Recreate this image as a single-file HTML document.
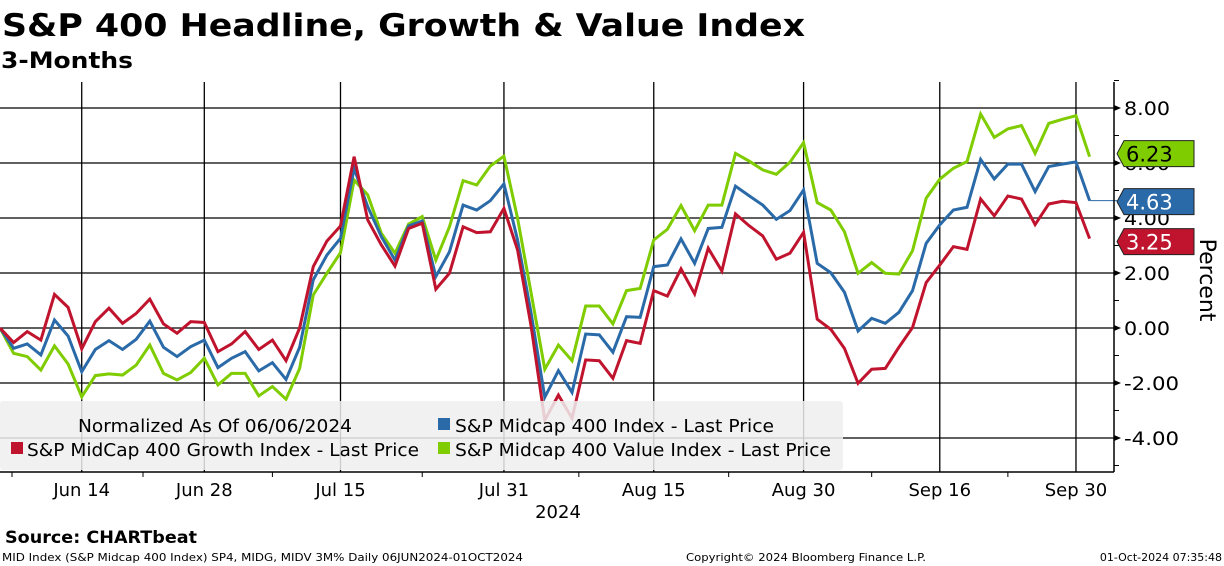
<!DOCTYPE html>
<html><head><meta charset="utf-8"><style>
html,body{margin:0;padding:0;background:#fff;}
svg{display:block;font-family:"DejaVu Sans","Liberation Sans",sans-serif;}
</style></head><body>
<svg id="chart" width="1224" height="566" viewBox="0 0 1224 566">
<text x="2" y="36" font-size="31" font-weight="bold" textLength="803" lengthAdjust="spacingAndGlyphs">S&amp;P 400 Headline, Growth &amp; Value Index</text>
<text x="1" y="68" font-size="22" font-weight="bold" textLength="132" lengthAdjust="spacingAndGlyphs">3-Months</text>
<g id="grid"></g>
<g id="series"></g>
<g id="legend">
<rect x="0" y="401" width="843" height="69" rx="3" fill="#efefef" fill-opacity="0.85"/>
<text x="78" y="432" font-size="18" textLength="274" lengthAdjust="spacingAndGlyphs">Normalized As Of 06/06/2024</text>
<rect x="438" y="418" width="12" height="12" fill="#2a6aa8"/>
<text x="455" y="432" font-size="18" textLength="319" lengthAdjust="spacingAndGlyphs">S&amp;P Midcap 400 Index - Last Price</text>
<rect x="11" y="442" width="12" height="12" fill="#c0142e"/>
<text x="27" y="456" font-size="18" textLength="392" lengthAdjust="spacingAndGlyphs">S&amp;P MidCap 400 Growth Index - Last Price</text>
<rect x="438" y="442" width="12" height="12" fill="#7fcc00"/>
<text x="455" y="456" font-size="18" textLength="376" lengthAdjust="spacingAndGlyphs">S&amp;P Midcap 400 Value Index - Last Price</text>
</g>
<g id="axes"></g>
<text x="558" y="518" font-size="18" text-anchor="middle">2024</text>
<text transform="translate(1200,280) rotate(90)" font-size="22" text-anchor="middle">Percent</text>
<text x="5" y="543" font-size="17" font-weight="bold" textLength="192" lengthAdjust="spacingAndGlyphs">Source: CHARTbeat</text>
<text x="2" y="561" font-size="11" textLength="521" lengthAdjust="spacingAndGlyphs">MID Index (S&amp;P Midcap 400 Index) SP4, MIDG, MIDV 3M%  Daily 06JUN2024-01OCT2024</text>
<text x="686" y="561" font-size="11" textLength="240" lengthAdjust="spacingAndGlyphs">Copyright© 2024 Bloomberg Finance L.P.</text>
<text x="1222" y="561" font-size="11" text-anchor="end">01-Oct-2024 07:35:48</text>
</svg>
<script>
const growth=[0,-0.53,-0.13,-0.44,1.22,0.75,-0.76,0.23,0.72,0.17,0.53,1.05,0.15,-0.19,0.23,0.2,-0.86,-0.58,-0.13,-0.78,-0.44,-1.19,0,2.23,3.16,3.71,6.23,3.93,3.02,2.25,3.62,3.81,1.41,1.99,3.68,3.47,3.5,4.35,2.84,0.05,-3.35,-2.44,-3.28,-1.16,-1.19,-1.83,-0.46,-0.56,1.36,1.16,2.15,1.24,2.9,2.07,4.15,3.72,3.35,2.5,2.72,3.48,0.32,-0.05,-0.74,-2.01,-1.5,-1.47,-0.7,0.02,1.65,2.29,2.96,2.86,4.69,4.08,4.8,4.69,3.76,4.51,4.61,4.56,3.25];
const headline=[0,-0.74,-0.58,-0.98,0.29,-0.29,-1.59,-0.78,-0.46,-0.78,-0.41,0.25,-0.7,-1.04,-0.68,-0.44,-1.44,-1.1,-0.86,-1.56,-1.26,-1.87,-0.7,1.75,2.65,3.26,5.8,4.41,3.32,2.47,3.71,3.89,1.87,2.77,4.47,4.29,4.63,5.24,3.2,0.53,-2.52,-1.55,-2.34,-0.22,-0.25,-0.88,0.41,0.39,2.23,2.29,3.24,2.35,3.62,3.66,5.16,4.81,4.47,3.95,4.27,5.02,2.35,2.01,1.3,-0.11,0.35,0.17,0.57,1.36,3.08,3.75,4.29,4.39,6.13,5.42,5.96,5.96,4.96,5.87,5.96,6.04,4.63];
const value=[0,-0.92,-1.04,-1.53,-0.65,-1.31,-2.5,-1.73,-1.67,-1.71,-1.35,-0.62,-1.65,-1.89,-1.62,-1.1,-2.07,-1.65,-1.65,-2.47,-2.13,-2.59,-1.47,1.2,1.99,2.74,5.38,4.84,3.44,2.72,3.78,4.05,2.47,3.68,5.36,5.2,5.89,6.25,3.99,1.26,-1.5,-0.62,-1.19,0.8,0.8,0.15,1.36,1.44,3.2,3.59,4.45,3.54,4.47,4.47,6.35,6.07,5.75,5.59,6.03,6.74,4.56,4.29,3.5,1.99,2.38,1.99,1.96,2.81,4.72,5.41,5.81,6.05,7.78,6.93,7.24,7.36,6.35,7.44,7.59,7.72,6.23];
const yTicks=[8,6,4,2,0,-2,-4];
const xLabels=["Jun 14","Jun 28","Jul 15","Jul 31","Aug 15","Aug 30","Sep 16","Sep 30"];
const xLabelIdx=[6,15,25,37,48,59,69,79];
const lastLabels=["6.23","4.63","3.25"];

const NS="http://www.w3.org/2000/svg";
const step=13.62;
function xs(i){return i*step;}
function ys(v){return 328-27.5*v;}
function mk(tag,attrs,parent){const e=document.createElementNS(NS,tag);for(const k in attrs)e.setAttribute(k,attrs[k]);parent.appendChild(e);return e;}
const grid=document.getElementById('grid'),ser=document.getElementById('series'),axes=document.getElementById('axes');
yTicks.forEach(v=>{const l=mk('line',{x1:0,x2:1114,y1:ys(v),y2:ys(v),stroke:'#000','stroke-width':1.3},grid);


const t=mk('text',{x:1124,y:ys(v)+7,'font-size':19,textLength:v<0?55:46,lengthAdjust:'spacingAndGlyphs'},axes);t.textContent=v.toFixed(2);


mk('path',{d:`M1114 ${ys(v)-3}L1121 ${ys(v)}L1114 ${ys(v)+3}Z`,fill:'#000'},axes);
mk('line',{x1:1114,x2:1119,y1:ys(v-1),y2:ys(v-1),stroke:'#000'},axes);});
mk('line',{x1:1114,x2:1119,y1:ys(9),y2:ys(9),stroke:'#000'},axes);
xLabelIdx.forEach((idx,k)=>{const x=xs(idx);const l=mk('line',{x1:x,x2:x,y1:82,y2:472,stroke:'#000','stroke-width':1.3},grid);


const t=mk('text',{x:x,y:496,'font-size':18,'text-anchor':'middle'},axes);t.textContent=xLabels[k];


if(k<xLabelIdx.length-1){const mx=(x+xs(xLabelIdx[k+1]))/2;mk('line',{x1:mx,x2:mx,y1:472,y2:477,stroke:'#000'},axes);}});
mk('line',{x1:12,x2:12,y1:472,y2:477,stroke:'#000'},axes);
const ax1=mk('line',{x1:0,x2:1114,y1:472,y2:472,stroke:'#000','stroke-width':1.5},axes);


const ax2=mk('line',{x1:1114,x2:1114,y1:82,y2:472,stroke:'#000','stroke-width':1.5},axes);


const cfg=[[value,'#7fcc00','value-line','#000'],[headline,'#2a6aa8','headline-line','#fff'],[growth,'#c0142e','growth-line','#fff']];
cfg.forEach(([arr,c,name])=>{const p=mk('polyline',{points:arr.map((v,i)=>xs(i)+','+ys(v)).join(' '),fill:'none',stroke:c,'stroke-width':3,'stroke-linejoin':'miter'},ser);

});
const lastI=headline.length-1;
mk('line',{x1:xs(lastI),x2:1117,y1:ys(headline[lastI]),y2:ys(headline[lastI]),stroke:'#2a6aa8','stroke-width':1},ser);
const tagY=[ys(value[lastI])-3,ys(headline[lastI])+1,ys(growth[lastI])+3];
cfg.forEach(([arr,c,name,tc],k)=>{const cy=tagY[k];
const g=mk('g',{},axes);


mk('path',{d:`M1117 ${cy}L1124 ${cy-13}L1194 ${cy-13}L1194 ${cy+13}L1124 ${cy+13}Z`,fill:c,stroke:'#222','stroke-width':1},g);
const t=mk('text',{x:1126,y:cy+8,'font-size':21,fill:tc},g);t.textContent=lastLabels[k];});
</script>
</body></html>
